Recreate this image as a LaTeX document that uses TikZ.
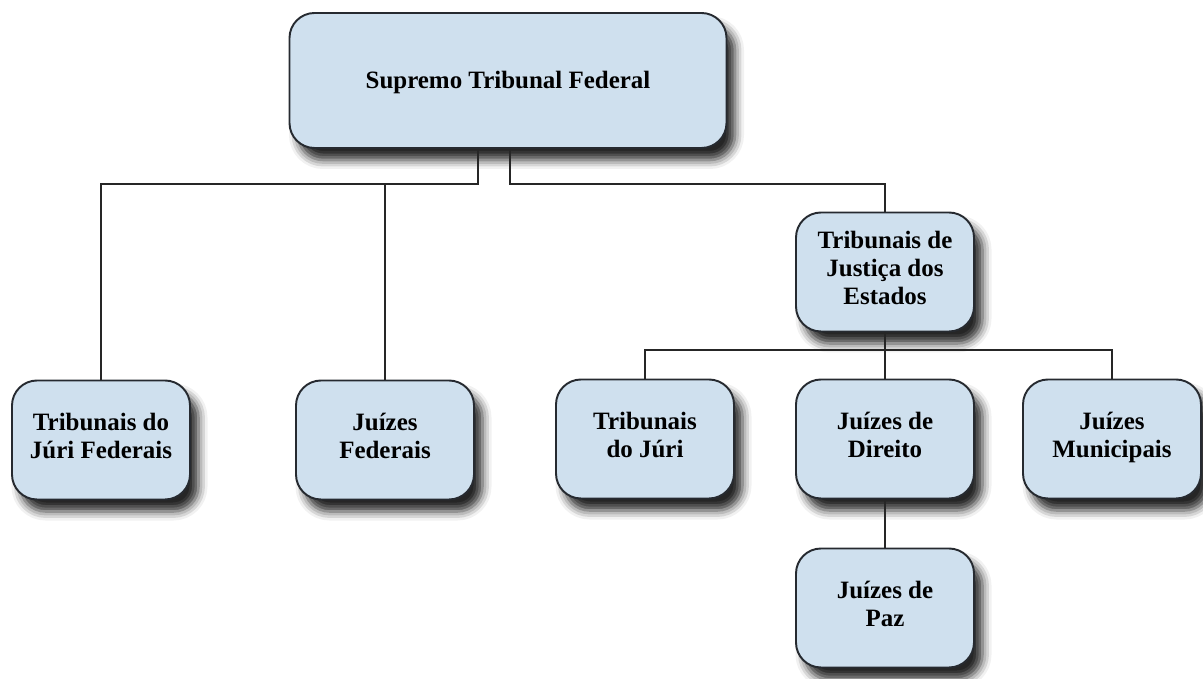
\documentclass[tikz,border=0pt]{standalone}
\usepackage{fontspec}
\setmainfont{Liberation Serif}
\usetikzlibrary{shadows.blur}

\definecolor{azulcaixa}{RGB}{207,224,238}
\definecolor{bordacaixa}{RGB}{38,42,48}

\tikzset{
    orgao/.style={draw=bordacaixa, line width=1.1pt, fill=azulcaixa,
        rounded corners=0.5cm, minimum width=3.56cm, minimum height=2.38cm,
        inner sep=0pt, align=center, font=\fontsize{14.2}{16}\selectfont\bfseries,
        execute at begin node={\rule{0pt}{14pt}}, execute at end node=\strut,
        blur shadow={shadow xshift=0.17cm, shadow yshift=-0.24cm,
            shadow blur radius=0.18cm, shadow opacity=85}},
    ligacao/.style={draw=black!85, line width=0.8pt}
}

\begin{document}
\begin{tikzpicture}
        \useasboundingbox (0,0) rectangle (24.06,-13.58);

        % Barras horizontais
        \coordinate (barra) at (0,-3.68);
        \coordinate (barraE) at (0,-7.00);

        % Orgaos
        \node[orgao, minimum width=8.74cm, minimum height=2.7cm] (stf) at (10.16,-1.61) {Supremo Tribunal Federal};
        \node[orgao] (tjf) at (2.02,-8.80) {Tribunais do\\Júri Federais};
        \node[orgao] (jf) at (7.70,-8.80) {Juízes\\Federais};
        \node[orgao] (tje) at (17.70,-5.44) {Tribunais de\\Justiça dos\\Estados};
        \node[orgao] (tj) at (12.90,-8.78) {Tribunais\\do Júri};
        \node[orgao] (jd) at (17.70,-8.78) {Juízes de\\Direito};
        \node[orgao] (jm) at (22.24,-8.78) {Juízes\\Municipais};
        \node[orgao] (jp) at (17.70,-12.16) {Juízes de\\Paz};

        % Ligacoes
        \draw[ligacao] ([xshift=-0.6cm]stf.south) |- (barra -| tjf.north) -- (tjf.north);
        \draw[ligacao] (jf.north) -- (jf.north |- barra);
        \draw[ligacao] ([xshift=0.04cm]stf.south) |- (barra -| tje.north) -- (tje.north);
        \draw[ligacao] (tje.south) -- (jd.north);
        \draw[ligacao] (tj.north) |- (barraE -| jm.north) -- (jm.north);
        \draw[ligacao] (jd.south) -- (jp.north);
    \end{tikzpicture}
\end{document}
